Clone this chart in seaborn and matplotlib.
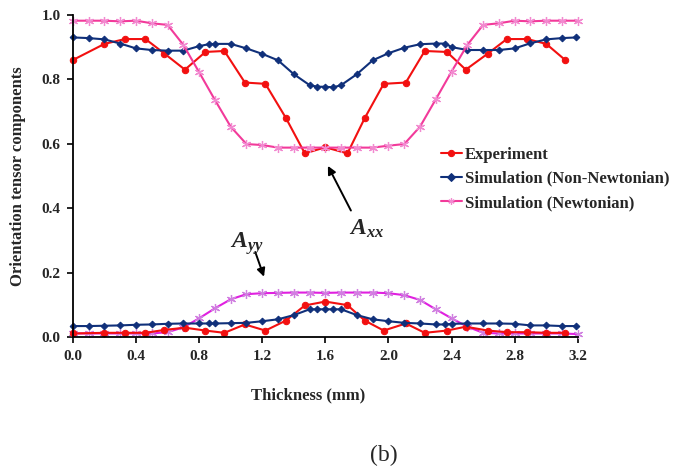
import matplotlib
matplotlib.use("Agg")
import matplotlib.pyplot as plt
import seaborn as sns

# ---------------- data ----------------
exp_x = [0.0, 0.2, 0.33, 0.46, 0.58, 0.71, 0.84, 0.96, 1.09, 1.22, 1.35, 1.47, 1.6,
         1.74, 1.85, 1.97, 2.11, 2.23, 2.37, 2.49, 2.63, 2.75, 2.88, 3.0, 3.12]
exp_axx = [0.86, 0.91, 0.925, 0.925, 0.88, 0.83, 0.885, 0.888, 0.79, 0.786, 0.68, 0.57, 0.589,
           0.57, 0.68, 0.786, 0.79, 0.888, 0.885, 0.83, 0.88, 0.925, 0.925, 0.91, 0.86]
exp_ayy = [0.011, 0.013, 0.013, 0.013, 0.022, 0.029, 0.02, 0.013, 0.039, 0.02, 0.051, 0.098, 0.11,
           0.099, 0.051, 0.02, 0.042, 0.013, 0.02, 0.032, 0.02, 0.015, 0.015, 0.013, 0.013]

nn_x = [0.0, 0.1, 0.2, 0.3, 0.4, 0.5, 0.6, 0.7, 0.8, 0.86, 0.9, 1.0, 1.1, 1.2, 1.3, 1.4, 1.5,
        1.55, 1.6, 1.65, 1.7, 1.8, 1.9, 2.0, 2.1, 2.2, 2.3, 2.36, 2.4, 2.5, 2.6, 2.7, 2.8,
        2.9, 3.0, 3.1, 3.19]
nn_axx = [0.93, 0.928, 0.924, 0.911, 0.896, 0.891, 0.889, 0.889, 0.903, 0.909, 0.91, 0.91, 0.896,
          0.879, 0.859, 0.816, 0.782, 0.777, 0.777, 0.775, 0.782, 0.816, 0.859, 0.881, 0.898,
          0.909, 0.911, 0.911, 0.90, 0.891, 0.891, 0.891, 0.896, 0.912, 0.924, 0.928, 0.93]
nn_ayy = [0.034, 0.034, 0.035, 0.036, 0.038, 0.039, 0.041, 0.042, 0.042, 0.042, 0.042, 0.043,
          0.044, 0.049, 0.055, 0.068, 0.086, 0.086, 0.086, 0.086, 0.086, 0.068, 0.055, 0.049,
          0.044, 0.042, 0.039, 0.039, 0.041, 0.042, 0.042, 0.042, 0.041, 0.036, 0.036, 0.034, 0.034]

nw_x = [0.0, 0.1, 0.2, 0.3, 0.4, 0.5, 0.6, 0.7, 0.8, 0.9, 1.0, 1.1, 1.2, 1.3, 1.4, 1.5, 1.6,
        1.7, 1.8, 1.9, 2.0, 2.1, 2.2, 2.3, 2.4, 2.5, 2.6, 2.7, 2.8, 2.9, 3.0, 3.1, 3.2]
nw_axx = [0.982, 0.982, 0.982, 0.98, 0.982, 0.974, 0.969, 0.907, 0.822, 0.736, 0.653, 0.599,
          0.596, 0.588, 0.588, 0.588, 0.588, 0.588, 0.588, 0.588, 0.594, 0.599, 0.653, 0.738,
          0.824, 0.907, 0.969, 0.974, 0.982, 0.98, 0.982, 0.982, 0.982]
nw_ayy = [0.011, 0.011, 0.011, 0.011, 0.011, 0.011, 0.015, 0.03, 0.058, 0.089, 0.117, 0.133,
          0.136, 0.137, 0.138, 0.138, 0.137, 0.138, 0.138, 0.138, 0.136, 0.13, 0.115, 0.086,
          0.058, 0.032, 0.013, 0.011, 0.011, 0.011, 0.011, 0.011, 0.009]

x_ticks = [0.0, 0.4, 0.8, 1.2, 1.6, 2.0, 2.4, 2.8, 3.2]
y_ticks = [0.0, 0.2, 0.4, 0.6, 0.8, 1.0]
labels = ["Experiment", "Simulation (Non-Newtonian)", "Simulation (Newtonian)"]

# ---------------- plot ----------------
sns.set_theme(style="ticks")
plt.rcParams["font.family"] = ["Liberation Serif", "DejaVu Serif"]
plt.rcParams["mathtext.fontset"] = "custom"
plt.rcParams["mathtext.bfit"] = "Liberation Serif:italic:bold"
plt.rcParams["mathtext.it"] = "Liberation Serif:italic:bold"
plt.rcParams["mathtext.rm"] = "Liberation Serif:bold"

fig = plt.figure(figsize=(6.75, 4.73), dpi=100)
ax = fig.add_axes([0.108, 0.2875, 0.748, 0.681])

RED = "#F21010"
NAVY = "#10307A"
PINK = "#F23A9A"
PINK_M = "#F28AD0"
MAG = "#E020E0"
MAG_M = "#D080E0"
ast = (6, 2, 0)
LW = 1.5

common = dict(ax=ax, sort=False, estimator=None, clip_on=False)

sns.lineplot(x=exp_x, y=exp_axx, color=RED, lw=LW, marker="o", ms=4.6,
             mec=RED, mfc=RED, label=labels[0], **common)
sns.lineplot(x=nn_x, y=nn_axx, color=NAVY, lw=LW, marker="D", ms=3.4,
             mec=NAVY, mfc=NAVY, label=labels[1], **common)
sns.lineplot(x=nw_x, y=nw_axx, color=PINK, lw=LW, marker=ast, ms=6.5,
             mec=PINK_M, mew=0.9, label=labels[2], **common)

sns.lineplot(x=nw_x, y=nw_ayy, color=MAG, lw=LW, marker=ast, ms=6.5,
             mec=MAG_M, mew=0.9, label="_nolegend_", **common)
sns.lineplot(x=exp_x, y=exp_ayy, color=RED, lw=LW, marker="o", ms=4.6,
             mec=RED, mfc=RED, label="_nolegend_", **common)
sns.lineplot(x=nn_x, y=nn_ayy, color=NAVY, lw=LW, marker="D", ms=3.4,
             mec=NAVY, mfc=NAVY, label="_nolegend_", **common)

ax.set_xlim(0, 3.2)
ax.set_ylim(0, 1.0)
ax.set_xticks(x_ticks)
ax.set_xticklabels([f"{t:.1f}" for t in x_ticks])
ax.set_yticks(y_ticks)
ax.set_yticklabels([f"{t:.1f}" for t in y_ticks])
for lab in ax.get_xticklabels() + ax.get_yticklabels():
    lab.set_fontweight("bold")
    lab.set_fontsize(11)
ax.tick_params(direction="out", length=4, width=1.2, color="black", pad=5)
for s in ["top", "right"]:
    ax.spines[s].set_visible(False)
for s in ["left", "bottom"]:
    ax.spines[s].set_color("black")
    ax.spines[s].set_linewidth(1.3)

ax.set_xlabel("Thickness (mm)", fontsize=12, fontweight="bold")
ax.xaxis.set_label_coords(0.465, -0.155)
ax.set_ylabel("Orientation tensor components", fontsize=12, fontweight="bold")
ax.yaxis.set_label_coords(-0.093, 0.5)

leg = ax.legend(loc="upper left", bbox_to_anchor=(0.715, 0.612), frameon=False,
                handlelength=1.3, handletextpad=0.15, labelspacing=0.5,
                prop={"family": "Liberation Serif", "weight": "bold", "size": 12},
                borderaxespad=0)
for line in leg.get_lines():
    line.set_markersize(4.5)

ax.annotate("", xy=(1.608, 0.539), xytext=(1.77, 0.385),
            arrowprops=dict(arrowstyle="-|>", color="black", lw=1.4, mutation_scale=12))
ax.text(1.86, 0.335, r"$\mathbfit{A}_{\mathbfit{xx}}$", fontsize=17, ha="center", va="center")
ax.annotate("", xy=(1.217, 0.179), xytext=(1.15, 0.272),
            arrowprops=dict(arrowstyle="-|>", color="black", lw=1.4, mutation_scale=12))
ax.text(1.10, 0.29, r"$\mathbfit{A}_{\mathbfit{yy}}$", fontsize=17, ha="center", va="center")

fig.text(0.569, 0.037, "(b)", fontsize=17, ha="center", va="center")

fig.savefig("out.png", dpi=100, facecolor="white")
